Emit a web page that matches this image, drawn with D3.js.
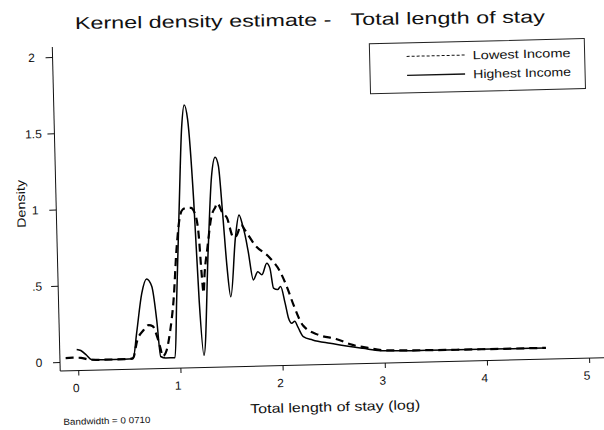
<!DOCTYPE html>
<html>
<head>
<meta charset="utf-8">
<script src="https://cdn.jsdelivr.net/npm/d3@7"></script>
<style>
  body { margin: 0; background: #fff; }
  svg { display: block; font-family: "Liberation Sans", Arial, sans-serif; }
</style>
</head>
<body>
<div id="chart"></div>
<script>
// kernel density
const lowX  = [-0.12, -0.05, 0.03, 0.1, 0.2, 0.5, 0.54, 0.585, 0.65, 0.70, 0.74, 0.78, 0.81, 0.83, 0.87, 0.91, 0.95, 0.99, 1.03, 1.06, 1.10, 1.14, 1.18, 1.21, 1.23, 1.245, 1.26, 1.29, 1.34, 1.38, 1.40, 1.45, 1.49, 1.55, 1.58, 1.63, 1.66, 1.76, 1.90, 2.0, 2.07, 2.12, 2.21, 2.36, 2.53, 2.69, 2.84, 3.0, 3.5, 4.0, 4.58];
const lowY  = [0.025, 0.026, 0.024, 0.012, 0.008, 0.008, 0.015, 0.13, 0.196, 0.228, 0.22, 0.15, 0.074, 0.02, 0.06, 0.19, 0.39, 0.716, 0.93, 0.98, 0.99, 0.99, 0.95, 0.82, 0.56, 0.43, 0.56, 0.71, 0.93, 0.99, 1.016, 0.95, 0.92, 0.79, 0.80, 0.87, 0.84, 0.735, 0.65, 0.555, 0.44, 0.34, 0.20, 0.136, 0.107, 0.065, 0.043, 0.025, 0.018, 0.016, 0.015];

const highX = [-0.01, 0.03, 0.086, 0.13, 0.25, 0.45, 0.54, 0.58, 0.64, 0.69, 0.74, 0.78, 0.81, 0.86, 0.95, 0.98, 1.03, 1.07, 1.10, 1.13, 1.17, 1.20, 1.234, 1.30, 1.35, 1.39, 1.42, 1.45, 1.48, 1.51, 1.57, 1.61, 1.645, 1.665, 1.69, 1.735, 1.78, 1.82, 1.87, 1.90, 1.93, 1.97, 2.0, 2.04, 2.07, 2.10, 2.13, 2.16, 2.21, 2.30, 2.47, 2.63, 2.79, 2.96, 3.28, 3.6, 3.93, 4.26, 4.58];
const highY = [0.08, 0.072, 0.04, 0.012, 0.008, 0.008, 0.01, 0.176, 0.437, 0.53, 0.48, 0.26, 0.02, 0.01, 0.01, 0.39, 1.04, 1.52, 1.665, 1.57, 1.04, 0.38, 0.02, 0.71, 1.19, 1.317, 1.26, 0.95, 0.6, 0.40, 0.79, 0.935, 0.86, 0.80, 0.70, 0.507, 0.56, 0.54, 0.614, 0.58, 0.45, 0.44, 0.46, 0.35, 0.25, 0.217, 0.23, 0.19, 0.127, 0.104, 0.079, 0.059, 0.041, 0.023, 0.018, 0.017, 0.016, 0.015, 0.014];

const seriesNames = ["Lowest Income", "Highest Income"];
const xTicks = [0, 1, 2, 3, 4, 5];
const yTicks = [0, 0.5, 1, 1.5, 2];
const yTickLabels = ["0", ".5", "1", "1.5", "2"];

const width = 604, height = 430;

const svg = d3.select("#chart").append("svg")
    .attr("width", width)
    .attr("height", height);

const x = d3.scaleLinear().domain([0, 5]).range([78, 589]);
const y = d3.scaleLinear().domain([0, 2]).range([362, 57]);
const axisX = 60, axisY = 371;

// the scan is turned a little, so the plot is too
const plot = svg.append("g").attr("transform", `rotate(-1.4, ${axisX}, ${y(0)})`);

// y axis
const gy = plot.append("g")
    .attr("transform", `translate(${axisX},0)`)
    .call(d3.axisLeft(y).tickValues(yTicks).tickFormat((d, i) => yTickLabels[i]).tickSize(7).tickSizeOuter(0));
gy.select(".domain").remove();
gy.selectAll("line").attr("stroke", "#111");
gy.selectAll("text")
    .attr("x", -21)
    .attr("text-anchor", "middle")
    .attr("font-size", 12)
    .attr("font-family", "Liberation Sans, Arial, sans-serif")
    .attr("fill", "#111");
plot.append("line")
    .attr("x1", axisX).attr("x2", axisX)
    .attr("y1", y(2) - 10).attr("y2", axisY)
    .attr("stroke", "#111");

// x axis
const gx = plot.append("g")
    .attr("transform", `translate(0,${axisY})`)
    .call(d3.axisBottom(x).tickValues(xTicks).tickFormat(d3.format("d")).tickSize(5).tickSizeOuter(0));
gx.select(".domain").remove();
gx.selectAll("line").attr("stroke", "#111");
gx.selectAll("text")
    .attr("y", 13)
    .attr("dx", -3)
    .attr("font-size", 12)
    .attr("font-family", "Liberation Sans, Arial, sans-serif")
    .attr("fill", "#111");
plot.append("line")
    .attr("x1", axisX).attr("x2", width + 4)
    .attr("y1", axisY).attr("y2", axisY)
    .attr("stroke", "#111");

// curves
const line = d3.line()
    .x(d => x(d[0]))
    .y(d => y(d[1]))
    .curve(d3.curveMonotoneX);

plot.append("path")
    .datum(lowX.map((v, i) => [v, lowY[i]]))
    .attr("fill", "none")
    .attr("stroke", "#000")
    .attr("stroke-width", 2.2)
    .attr("stroke-dasharray", "8,5")
    .attr("d", line);

plot.append("path")
    .datum(highX.map((v, i) => [v, highY[i]]))
    .attr("fill", "none")
    .attr("stroke", "#000")
    .attr("stroke-width", 1.5)
    .attr("d", line);

// axis titles
plot.append("text")
    .attr("transform", "translate(29,203) rotate(-90)")
    .attr("text-anchor", "middle")
    .attr("font-size", 12)
    .attr("textLength", 48)
    .attr("lengthAdjust", "spacingAndGlyphs")
    .attr("fill", "#111")
    .text("Density");

plot.append("text")
    .attr("x", 249).attr("y", 418)
    .attr("font-size", 13)
    .attr("textLength", 170)
    .attr("lengthAdjust", "spacingAndGlyphs")
    .attr("fill", "#111")
    .text("Total length of stay (log)");

plot.append("text")
    .attr("x", 62).attr("y", 425)
    .attr("font-size", 9)
    .attr("textLength", 87)
    .attr("lengthAdjust", "spacingAndGlyphs")
    .attr("fill", "#111")
    .text("Bandwidth = 0 0710");

// legend
const legend = plot.append("g").attr("transform", "translate(377,51.5)");
legend.append("rect")
    .attr("width", 215).attr("height", 50)
    .attr("fill", "#fff")
    .attr("stroke", "#222");
seriesNames.forEach((name, i) => {
    const ry = 13.5 + i * 19;
    legend.append("line")
        .attr("x1", 37).attr("x2", 95)
        .attr("y1", ry).attr("y2", ry)
        .attr("stroke", "#111")
        .attr("stroke-width", i === 0 ? 1 : 1.3)
        .attr("stroke-dasharray", i === 0 ? "3,2" : null);
    legend.append("text")
        .attr("x", 103).attr("y", ry + 4.5)
        .attr("font-size", 12)
        .attr("textLength", 98)
        .attr("lengthAdjust", "spacingAndGlyphs")
        .attr("fill", "#111")
        .text(name);
});

// title
svg.append("text")
    .attr("transform", "rotate(-0.8, 75, 29)")
    .attr("x", 75).attr("y", 29)
    .attr("font-size", 17)
    .attr("textLength", 470)
    .attr("lengthAdjust", "spacingAndGlyphs")
    .attr("fill", "#111")
    .style("white-space", "pre")
    .text("Kernel density estimate -   Total length of stay");
</script>
</body>
</html>
